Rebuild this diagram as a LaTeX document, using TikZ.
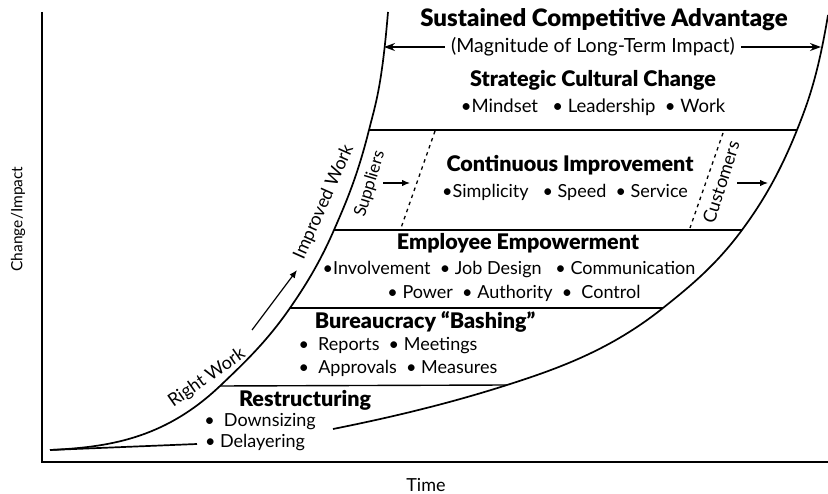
\documentclass[tikz,border=0pt]{standalone}
\usepackage{fontspec}
\setmainfont{Lato}[BoldFont={Lato Black}]
\usetikzlibrary{arrows.meta}
\begin{document}
\begin{tikzpicture}[x=1pt,y=-1pt,
  curve/.style={line width=1.7pt},
  band/.style={line width=1.4pt},
  axis/.style={line width=1.8pt},
  dashline/.style={line width=1.3pt,dash pattern=on 3.5pt off 4pt},
  tip/.style={-{Latex[length=8pt,width=6.5pt]},line width=1.2pt},
  bigtip/.style={-{Stealth[length=11pt,width=8pt]},line width=1.2pt},
  title/.style={font=\fontsize{24}{28}\selectfont\bfseries,inner sep=0pt},
  head/.style={font=\fontsize{21.5}{25}\selectfont\bfseries,inner sep=0pt},
  body/.style={font=\fontsize{18}{21}\selectfont,inner sep=0pt},
  lbl/.style={font=\fontsize{18}{21}\selectfont,inner sep=0pt}]
\useasboundingbox (0,0) rectangle (828,494);
% axes
\coordinate (O) at (42,462);
\coordinate (Ytop) at (42,12);
\coordinate (Xend) at (828,462);
\draw[axis] (Ytop) -- (O) -- (Xend);
% left curve
\coordinate (L0) at (50,450);
\coordinate (L1) at (220,386);
\coordinate (L2) at (290,308);
\coordinate (L3) at (334,230);
\coordinate (L4) at (369,130);
\coordinate (L5) at (384,47);
\coordinate (L6) at (388,12);
\draw[curve] (L0) .. controls (106.7,447.2) and (163.3,439.8) .. (L1)
  .. controls (243.3,363.8) and (266.7,341.8) .. (L2)
  .. controls (304.7,286.7) and (319.3,263.7) .. (L3)
  .. controls (345.7,203.2) and (357.3,176.7) .. (L4)
  .. controls (375.3,104.7) and (381.7,88) .. (L6);
% right curve
\coordinate (R0) at (333,429);
\coordinate (R1) at (507,385);
\coordinate (R2) at (663,308);
\coordinate (R3) at (742,230);
\coordinate (R4) at (797,130);
\coordinate (R5) at (821,47);
\coordinate (R6) at (828,15);
\draw[curve] (R0) .. controls (391,417.4) and (449,403.6) .. (R1)
  .. controls (559,368.4) and (611,349.6) .. (R2)
  .. controls (689.3,287) and (715.7,265.6) .. (R3)
  .. controls (760.3,205.2) and (778.7,175.8) .. (R4)
  .. controls (807.3,104.2) and (817.7,77) .. (R6);
\coordinate (D1) at (197,444);
\draw[curve] (L0) -- (D1);
% band lines
\draw[band] (L1) -- (R1);
\draw[band] (L2) -- (R2);
\draw[band] (L3) -- (R3);
\draw[band] (L4) -- (R4);
% dashed lines
\coordinate (S1) at (435,131);
\coordinate (S2) at (401,228);
\coordinate (C1) at (723,133);
\coordinate (C2) at (690,228);
\draw[dashline] (S1) -- (S2);
\draw[dashline] (C1) -- (C2);
% texts
\node[title] (sca) at (604,20) {Sustained Competitive Advantage};
\node[body,font=\fontsize{19.5}{22}\selectfont,inner xsep=6pt] (mag) at (593,47) {(Magnitude of Long-Term Impact)};
\draw[bigtip] (mag.west) -- (L5);
\draw[bigtip] (mag.east) -- (R5);
\node[head] (scc) at (593,80) {Strategic Cultural Change};
\node[body,font=\fontsize{18.5}{22}\selectfont] (mind) at (593,107) {•Mindset\ \ \ • Leadership\ \ • Work};
\node[head] (ci) at (570,165) {Continuous Improvement};
\node[body] (simp) at (565,192) {•Simplicity\ \ \ • Speed\ \ • Service};
\node[head] (ee) at (518,243) {Employee Empowerment};
\node[body] (inv) at (509,270) {•Involvement\ \ • Job Design\ \ \ • Communication};
\node[body] (pow) at (514,293) {• Power\ \ • Authority\ \ •\ \ Control};
\node[head] (bb) at (425,322) {Bureaucracy “Bashing”};
\node[body] (rep) at (388,346) {•\ \ Reports\ \ • Meetings};
\node[body] (app) at (398,368) {•\ \ Approvals\ \ • Measures};
\node[head] (res) at (305,400) {Restructuring};
\node[body] (down) at (260,422) {•\ \ Downsizing};
\node[body] (del) at (255,443) {• Delayering};
\node[lbl,font=\fontsize{17}{20}\selectfont,rotate=73] (sup) at (370,184) {Suppliers};
\node[lbl,rotate=72.5] (cus) at (721,182) {Customers};
\coordinate (SA1) at (383,183);
\coordinate (SA2) at (410,183);
\coordinate (CA1) at (737,183);
\coordinate (CA2) at (768,183);
\draw[tip] (SA1) -- (SA2);
\draw[tip] (CA1) -- (CA2);
\node[lbl,rotate=66] (imp) at (324,202) {Improved Work};
\node[lbl,rotate=35] (rw) at (207,378) {Right Work};
\coordinate (RA1) at (252,330);
\coordinate (RA2) at (297,270);
\draw[tip] (RA1) -- (RA2);
\node[lbl] (time) at (426,485) {Time};
\node[lbl,font=\fontsize{15.5}{18}\selectfont,rotate=90] (chg) at (18,219) {Change/Impact};
\end{tikzpicture}
\end{document}
